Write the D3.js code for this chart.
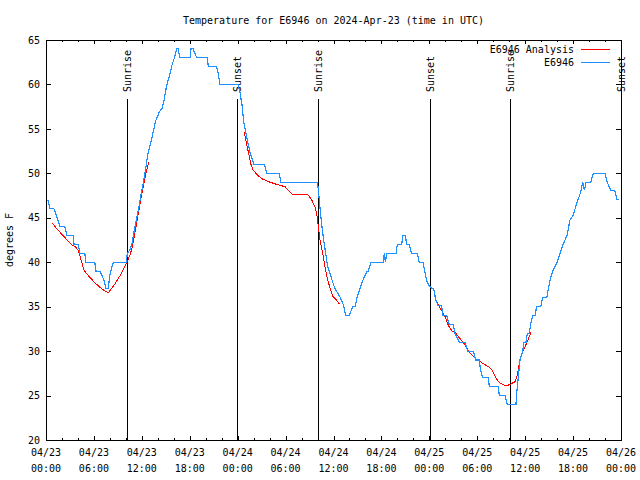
<!DOCTYPE html>
<html><head><meta charset="utf-8">
<script src="https://cdn.jsdelivr.net/npm/d3@7/dist/d3.min.js"></script>
<style>body{margin:0;background:#fff}svg{display:block}</style>
</head><body>
<svg id="c" width="640" height="480"></svg>
<script>
// ---------------- data ----------------
const titleText = "Temperature for E6946 on 2024-Apr-23 (time in UTC)";
const yLabel = "degrees F";
const seriesNames = ["E6946 Analysis", "E6946"];
// hours after 2024-04-23 00:00 UTC
const obsHours = [0.25,0.50,1.00,1.13,1.38,1.75,2.34,2.63,3.42,3.51,4.01,4.26,4.85,5.01,6.10,6.26,6.76,7.01,7.26,7.51,7.80,7.98,8.26,8.43,10.05,10.18,10.52,10.77,11.02,11.27,11.61,11.86,12.18,12.52,12.77,13.11,13.44,13.69,14.19,14.53,14.78,15.11,15.44,15.78,16.12,16.37,16.53,16.78,18.03,18.16,18.41,18.87,20.20,20.32,21.37,21.54,21.79,23.79,24.04,24.29,24.54,24.79,25.04,25.29,25.54,25.79,26.04,27.38,27.64,29.18,29.43,33.97,34.06,34.18,34.37,34.56,34.77,35.02,35.27,35.56,35.81,36.19,36.81,37.23,37.53,37.98,38.40,38.69,38.94,39.32,39.69,40.16,40.36,40.70,42.24,42.36,42.49,42.66,43.83,43.99,44.54,44.70,44.99,45.17,45.45,45.79,46.49,46.74,47.21,47.42,47.71,47.96,48.30,48.55,48.80,49.12,49.55,49.67,50.17,50.50,51.00,51.21,51.75,52.47,52.80,53.51,53.81,54.26,54.38,54.68,55.38,55.51,56.64,56.76,57.47,57.76,58.85,58.94,59.14,59.35,59.69,59.85,60.10,60.27,60.52,60.69,60.94,61.23,61.44,61.94,62.19,62.70,62.90,63.11,63.45,63.99,64.36,64.74,65.24,65.61,66.03,66.37,66.65,66.99,67.20,67.41,67.62,68.21,68.53,69.99,70.28,70.71,71.25,71.46,71.79];
const obsTemps = [47,46,46,45.7,45,44,44,43,43,42,42,41,41,40,40,39,39,38.5,38,37,37,38.5,39.5,40,40,41,41.4,42.1,43.4,44.6,46.1,47.4,48.9,50.75,52.25,53.4,54.7,55.8,56.9,57.3,58.25,59.9,60.9,62.2,63.1,64,64,63,63,64,64,63,63,62,62,61.3,60,60,60,59.1,57.7,55.6,54.5,53.4,52.4,51.7,51,51,50,50,49,49,48.5,47.4,45.5,44,42.5,41,39.5,38.75,38,37,36.1,35.2,34,34,35,35,36,37,38,38.9,39,40,40,41,40,41,41,42,42,43,43,42,42,41,41,40,40,39,37.8,37.4,37.07,37,35.75,35.1,35.1,34,34,33,33,32,31,31,30,30,29,29,28,27,27,26,26,25,25,24,24,25.25,27.1,29,30,31,31,32,32,33,34,34,35,35,36,36,37,38,39,40,41,42,43,44.75,45.3,46.4,47.1,48,49,48.1,49,49,50,50,49,48.1,48,47.1,47];
// analysis series, null = gap
const anaHours = [0.79,1.41,2.25,3.09,3.72,4.04,4.35,4.76,5.38,6.22,7.05,7.80,8.51,9.35,10.10,10.52,10.77,11.02,11.27,11.56,11.86,12.18,12.52,12.86,null,24.83,25.13,25.42,25.63,25.88,26.38,27.01,28.05,29.09,29.93,30.34,30.89,32.84,33.27,33.68,33.97,34.10,34.31,34.65,34.94,35.22,35.56,35.90,36.31,36.73,null,48.80,49.12,49.55,49.96,50.38,50.80,51.34,51.84,52.47,53.09,53.72,54.56,55.38,55.81,56.22,56.64,57.19,57.69,58.19,58.73,59.02,59.27,59.48,59.77,60.27,60.77];
const anaTemps = [44.4,43.7,42.9,42.05,41.7,41.3,40.4,39.1,38.4,37.6,36.95,36.55,37.4,38.6,39.95,40.8,41.6,42.7,44.0,45.5,47,48.5,50,51.3,null,54.7,53.2,52.1,51.1,50.45,49.9,49.4,49.0,48.7,48.5,48.1,47.6,47.56,47.0,46.25,45.1,44.0,42.5,41.0,39.5,38.2,37.1,36.2,35.8,35.3,null,35.75,35.2,34.55,33.9,32.9,32.3,32.0,31.4,30.7,29.8,29.2,28.7,28.25,27.95,27.2,26.55,26.25,26.1,26.3,26.55,27.3,28.6,29.4,30.1,31.06,32.2];
const sunHours = [10.18, 23.95, 34.10, 48.05, 58.14, 72.0];
const sunLabels = ["Sunrise", "Sunset", "Sunrise", "Sunset", "Sunrise", "Sunset"];
const yTicks = [20,25,30,35,40,45,50,55,60,65];
const yDomain = [20, 65];
const spanHours = 72;

// ---------------- drawing ----------------
const FONT = "'DejaVu Sans Mono', 'Liberation Mono', monospace";
const colors = {ana: "#ff0000", obs: "#1e90ff"};
const t0 = Date.UTC(2024, 3, 23);
const toDate = h => new Date(t0 + h * 3600e3);

const L = 46, R = 621, T = 40, B = 440;
const svg = d3.select("#c").style("font-family", FONT).style("font-size", "10px");
const x = d3.scaleUtc().domain([toDate(0), toDate(spanHours)]).range([L, R]);
const y = d3.scaleLinear().domain(yDomain).range([B, T]);

svg.append("rect").attr("width", 640).attr("height", 480).attr("fill", "#fff");

// title
svg.append("text").attr("x", (L + R) / 2).attr("y", 24).attr("text-anchor", "middle")
  .attr("fill", "#000").text(titleText);

// y label
svg.append("text").attr("transform", `translate(13,${(T + B) / 2}) rotate(-90)`)
  .attr("text-anchor", "middle").attr("fill", "#000").text(yLabel);

const minorTicks = d3.range(0, spanHours + 0.001, 2).map(toDate);
const majorTicks = d3.range(0, spanHours + 0.001, 6).map(toDate);

function styleAxis(g) {
  g.select(".domain").remove();
  g.selectAll("line").attr("stroke", "#000").attr("shape-rendering", "crispEdges");
  g.selectAll("text").attr("fill", "#000").style("font-family", FONT).style("font-size", "10px");
}
// x axes (ticks inward)
svg.append("g").attr("transform", `translate(0,${B})`)
  .call(d3.axisBottom(x).tickValues(minorTicks).tickSize(-2).tickSizeOuter(0).tickFormat(""))
  .call(styleAxis);
svg.append("g").attr("transform", `translate(0,${B})`)
  .call(d3.axisBottom(x).tickValues(majorTicks).tickSize(-4).tickSizeOuter(0).tickFormat(""))
  .call(styleAxis);
svg.append("g").attr("transform", `translate(0,${T})`)
  .call(d3.axisTop(x).tickValues(minorTicks).tickSize(-2).tickSizeOuter(0).tickFormat(""))
  .call(styleAxis);
svg.append("g").attr("transform", `translate(0,${T})`)
  .call(d3.axisTop(x).tickValues(majorTicks).tickSize(-4).tickSizeOuter(0).tickFormat(""))
  .call(styleAxis);

// x labels (two lines)
const fmtD = d3.utcFormat("%m/%d"), fmtT = d3.utcFormat("%H:%M");
const xl = svg.append("g").attr("fill", "#000").attr("text-anchor", "middle");
majorTicks.forEach(d => {
  xl.append("text").attr("x", x(d)).attr("y", 456).text(fmtD(d));
  xl.append("text").attr("x", x(d)).attr("y", 472).text(fmtT(d));
});

// y axes
svg.append("g").attr("transform", `translate(${L},0)`)
  .call(d3.axisLeft(y).tickValues(yTicks).tickSize(-5).tickSizeOuter(0).tickPadding(6).tickFormat(d3.format("d")))
  .call(styleAxis);
svg.append("g").attr("transform", `translate(${R},0)`)
  .call(d3.axisRight(y).tickValues(yTicks).tickSize(-5).tickSizeOuter(0).tickFormat(""))
  .call(styleAxis);

// sunrise / sunset markers
const sun = svg.append("g");
sunHours.forEach((h, i) => {
  const xx = Math.round(x(toDate(h))) + 0.5;
  sun.append("line").attr("x1", xx).attr("x2", xx).attr("y1", 99).attr("y2", B)
    .attr("stroke", "#000").attr("shape-rendering", "crispEdges");
  sun.append("text").attr("transform", `translate(${xx + 3.5},92) rotate(-90)`)
    .attr("text-anchor", "start").attr("fill", "#000").text(sunLabels[i]);
});

// series
const obs = obsHours.map((h, i) => ({t: toDate(h), v: obsTemps[i]}));
const ana = anaHours.map((h, i) => ({t: h == null ? null : toDate(h), v: anaTemps[i]}));
const line = d3.line().defined(d => d.v != null).x(d => x(d.t)).y(d => y(d.v));

svg.append("path").datum(ana).attr("d", line).attr("fill", "none")
  .attr("stroke", colors.ana).attr("stroke-width", 1).attr("shape-rendering", "crispEdges");
svg.append("path").datum(obs).attr("d", line).attr("fill", "none")
  .attr("stroke", colors.obs).attr("stroke-width", 1.2).attr("shape-rendering", "crispEdges");

// frame
svg.append("rect").attr("x", L + 0.5).attr("y", T + 0.5).attr("width", R - L).attr("height", B - T)
  .attr("fill", "none").attr("stroke", "#000").attr("shape-rendering", "crispEdges");

// legend
const leg = svg.append("g");
[[seriesNames[0], colors.ana, 49.5], [seriesNames[1], colors.obs, 62.5]].forEach(([name, col, yy]) => {
  leg.append("text").attr("x", 574).attr("y", yy + 3.5).attr("text-anchor", "end")
    .attr("fill", "#000").text(name);
  leg.append("line").attr("x1", 581).attr("x2", 610).attr("y1", yy).attr("y2", yy)
    .attr("stroke", col).attr("stroke-width", 1).attr("shape-rendering", "crispEdges");
});
</script>
</body></html>
